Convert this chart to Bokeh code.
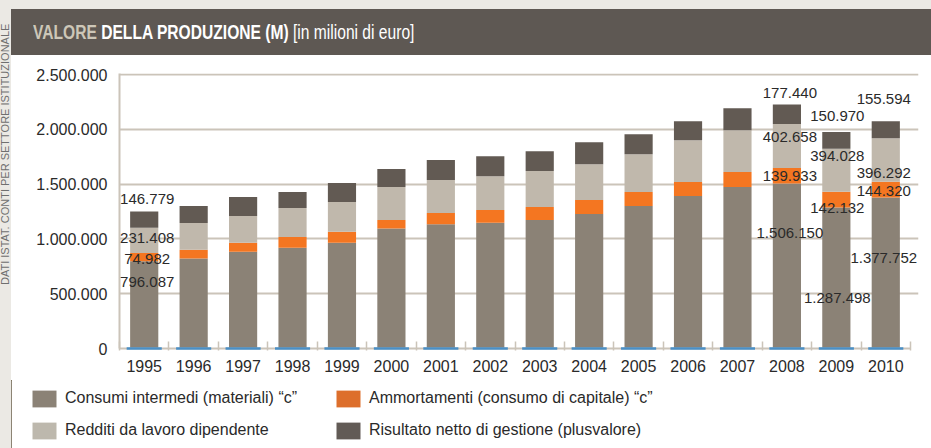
from bokeh.plotting import figure
from bokeh.models import (ColumnDataSource, Range1d, FixedTicker,
                          LabelSet, Legend, LegendItem, Div, Spacer)
from bokeh.layouts import row, column
from bokeh.core.properties import value
from bokeh.embed import file_html
from bokeh.resources import INLINE

# ---------------- data ----------------
years = ["1995", "1996", "1997", "1998", "1999", "2000", "2001", "2002",
         "2003", "2004", "2005", "2006", "2007", "2008", "2009", "2010"]
consumi = [796087, 821400, 882300, 918200, 964100, 1094300, 1134200, 1148100,
           1173400, 1227300, 1300200, 1391400, 1473100, 1506150, 1287498, 1377752]
ammortamenti = [74982, 78900, 82100, 99800, 100300, 79200, 102600, 115400,
                118200, 127300, 126800, 127400, 136200, 139933, 142132, 144320]
redditi = [231408, 244800, 245300, 263900, 272800, 299600, 300400, 309200,
           327100, 327400, 345300, 381800, 382400, 402658, 394028, 396292]
risultato = [146779, 155200, 172600, 145300, 172800, 163900, 181800, 182300,
             181600, 199800, 181900, 172700, 199600, 177440, 150970, 155594]

series_keys = ["consumi", "ammortamenti", "redditi", "risultato"]
series_labels = ["Consumi intermedi (materiali) \u201cc\u201d",
                 "Ammortamenti (consumo di capitale) \u201cc\u201d",
                 "Redditi da lavoro dipendente",
                 "Risultato netto di gestione (plusvalore)"]
y_ticks = [0, 500000, 1000000, 1500000, 2000000, 2500000]
labelled_years = ["1995", "2008", "2009", "2010"]


def it_fmt(v):
    return f"{v:,}".replace(",", ".")


# ---------------- style ----------------
FONT = "Liberation Sans"
colors = ["#8b8276", "#f47621", "#c0b8ac", "#625a53"]
legend_colors = ["#8b8276", "#dd6f2c", "#bdb8ad", "#625b56"]
GRID = "#cbc4b9"
TEXT = "#2a2a2a"
BG = "#ebe9e4"

# label nudges in screen px (up positive), per labelled year, per series (bottom->top)
nudge_y = {"1995": [23, -2, 2.5, 21], "2008": [33, 0, 9, 21],
           "2009": [-20, -8, 14, 24], "2010": [15, -1.5, -13, 31]}
nudge_x = {"1995": 3, "2008": 3, "2009": 1, "2010": -2}

STRIP_W = 11
W = 931 - STRIP_W
H = 325
FRAME_TOP, FRAME_BOTTOM = 18, 293
PX_PER_TOP_TICK = 274          # px from 0 to the top tick
BORDER_L, BORDER_R = 108, 13
PX_PER_CAT = 791 / len(years)
y_end = y_ticks[-1] * (FRAME_BOTTOM - FRAME_TOP) / PX_PER_TOP_TICK
x_end = -0.5 + (W - BORDER_L - BORDER_R) / PX_PER_CAT   # a little room right for labels

src = ColumnDataSource(dict(x=list(range(len(years))), consumi=consumi,
                            ammortamenti=ammortamenti, redditi=redditi,
                            risultato=risultato))

p = figure(width=W, height=H, output_backend="svg", toolbar_location=None,
           x_range=Range1d(-0.5, x_end), y_range=Range1d(0, y_end),
           min_border_left=BORDER_L, min_border_right=BORDER_R,
           min_border_top=FRAME_TOP, min_border_bottom=H - FRAME_BOTTOM)
p.outline_line_color = None
p.background_fill_color = "white"
p.border_fill_color = "white"

rends = p.vbar_stack(series_keys, x="x", width=0.57, color=colors, source=src,
                     line_color=None)

# thin blue baseline marks under each bar
p.rect(x="x", y=0, width=0.71, height=2.5, height_units="screen", source=src,
       color="#4a8fc6", line_color=None, level="overlay")

# axes
p.xgrid.visible = False
p.ygrid.grid_line_color = GRID
p.ygrid.grid_line_width = 2
p.ygrid.ticker = FixedTicker(ticks=y_ticks)

ya = p.yaxis[0]
ya.ticker = FixedTicker(ticks=y_ticks)
ya.major_label_overrides = {t: it_fmt(t) for t in y_ticks}
ya.axis_line_color = GRID
ya.axis_line_width = 2
ya.major_tick_line_color = None
ya.minor_tick_line_color = None
ya.major_tick_out = 0
ya.major_tick_in = 0
ya.major_label_standoff = 12
ya.major_label_text_font = FONT
ya.major_label_text_font_size = "16px"
ya.major_label_text_color = TEXT

xa = p.xaxis[0]
xa.bounds = (-0.5, len(years) - 0.5)
xa.ticker = FixedTicker(ticks=list(range(len(years))),
                        minor_ticks=[i - 0.5 for i in range(len(years) + 1)])
xa.major_label_overrides = {i: y for i, y in enumerate(years)}
xa.axis_line_color = GRID
xa.axis_line_width = 2
xa.major_tick_line_color = None
xa.major_tick_out = 0
xa.major_tick_in = 0
xa.minor_tick_line_color = GRID
xa.minor_tick_line_width = 1.5
xa.minor_tick_in = 7
xa.minor_tick_out = 2
xa.major_label_standoff = 9
xa.major_label_text_font = FONT
xa.major_label_text_font_size = "16px"
xa.major_label_text_color = TEXT

# value labels
series_vals = [consumi, ammortamenti, redditi, risultato]
lx, ly, lt, ldx, ldy = [], [], [], [], []
for yr in labelled_years:
    i = years.index(yr)
    base = 0
    for k, vals in enumerate(series_vals):
        v = vals[i]
        lx.append(i)
        ly.append(base + v / 2)
        lt.append(it_fmt(v))
        ldx.append(nudge_x[yr])
        ldy.append(nudge_y[yr][k])
        base += v
lsrc = ColumnDataSource(dict(x=lx, y=ly, text=lt, dx=ldx, dy=ldy))
p.add_layout(LabelSet(x="x", y="y", text="text", x_offset="dx", y_offset="dy",
                      source=lsrc, text_align="center", text_baseline="middle",
                      text_font=value(FONT), text_font_size=value("15px"),
                      text_color=TEXT))

# legend in its own strip below the chart (same series, drawn out of view,
# so the legend can show their swatches)
LH = 448 - 9 - 46 - H
lf = figure(width=W, height=LH, output_backend="svg", toolbar_location=None,
            x_range=Range1d(100, 101), y_range=Range1d(0, 1), min_border=0,
            x_axis_type=None, y_axis_type=None)
lf.frame_align = False
lf.outline_line_color = None
lf.background_fill_color = "white"
lf.border_fill_color = "white"
leg_rends = lf.vbar_stack(series_keys, x="x", width=0.57, color=legend_colors, source=src,
                          line_color=None)
legend = Legend(items=[LegendItem(label=series_labels[k], renderers=[leg_rends[k]]) for k in range(4)],
                location=(18, 7.5), orientation="horizontal", ncols=2,
                glyph_width=30, glyph_height=21, label_standoff=6,
                label_width=257, label_height=21, spacing=11, padding=0, margin=0,
                border_line_color=None, background_fill_alpha=0,
                label_text_font=FONT, label_text_font_size="16px",
                label_text_color=TEXT)
lf.add_layout(legend)

# title bar and side strip
title_html = ('<div style="height:46px;line-height:46px;padding-left:22px;white-space:nowrap;">'
              '<span style="display:inline-block;transform:scaleX(0.8);transform-origin:0 50%;'
              'font-family:\'Liberation Sans\',sans-serif;font-size:19.5px;font-weight:bold;color:#ffffff;">'
              '<span style="color:#cdc7b8">VALORE</span> DELLA PRODUZIONE (M) '
              '<span style="font-weight:normal">[in milioni di euro]</span></span></div>')
title = Div(text=title_html, width=W, height=46, margin=0,
            styles={"background-color": "#5e5853"})

strip_html = ('<div style="position:absolute;left:0px;top:285px;transform-origin:0 0;'
              'transform:rotate(-90deg);white-space:nowrap;font-family:\'Liberation Sans\',sans-serif;'
              'font-size:11px;line-height:10px;color:#6f6f6f;">'
              'DATI ISTAT. CONTI PER SETTORE ISTITUZIONALE</div>')
strip = Div(text=strip_html, width=STRIP_W, height=448, margin=0,
            styles={"overflow": "hidden", "background-color": BG, "position": "relative"})

gap = Spacer(width=W, height=9, margin=0, styles={"background-color": BG})
right = column(gap, title, p, lf, spacing=0, styles={"background-color": "white"})
layout = row(strip, right, spacing=0, styles={"background-color": BG})

open("out.html", "w").write(file_html(layout, INLINE))
